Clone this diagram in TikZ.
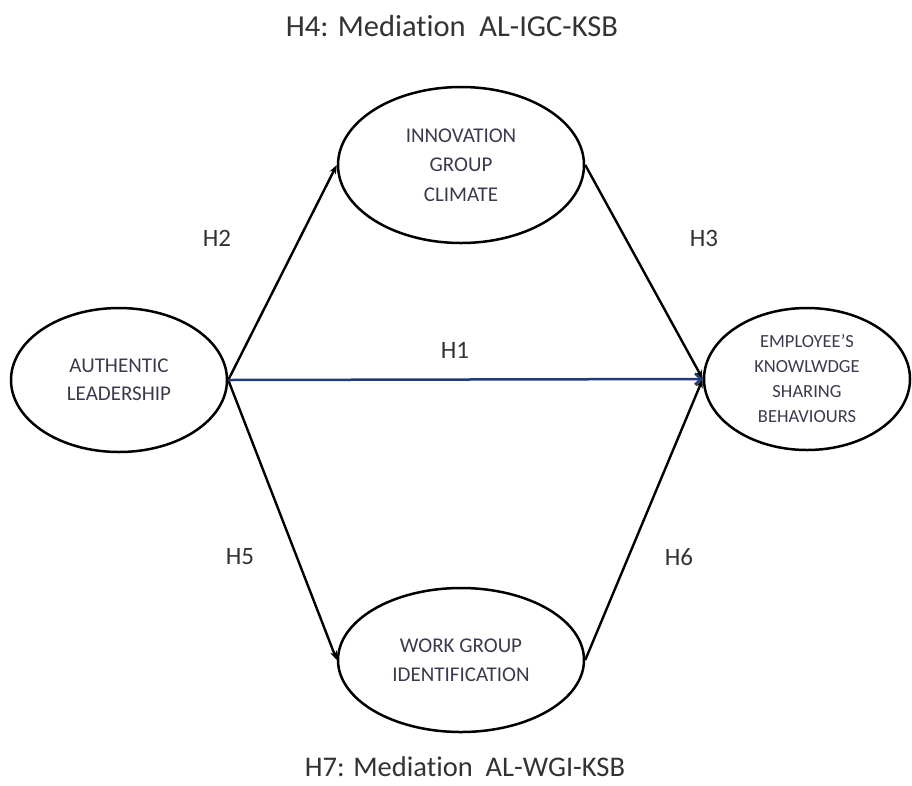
\documentclass[tikz,border=0pt]{standalone}
\usepackage{fontspec}
\setmainfont[Ligatures=NoCommon]{Carlito}
\usetikzlibrary{arrows.meta,shapes.geometric}
\definecolor{txtgray}{HTML}{333333}
\definecolor{elltxt}{HTML}{3A3A4E}
\definecolor{h1blue}{HTML}{1F3B7A}
\tikzset{
  ell/.style={draw=black, line width=2.5pt, ellipse, inner sep=0pt, align=center, text=elltxt},
  link/.style={draw=black, line width=2.4pt, -{Stealth[length=9pt,width=7pt]}},
  bluelink/.style={draw=h1blue, line width=2.5pt, -{Straight Barb[length=6pt,width=11pt,line width=2.4pt]}},
  hlabel/.style={text=txtgray, font=\fontsize{25}{30}\selectfont, inner sep=0pt},
  titlelabel/.style={text=txtgray, inner sep=0pt}
}
\begin{document}
\begin{tikzpicture}[x=1pt,y=-1pt]
\useasboundingbox (0,0) rectangle (912,785);
\node[ell, minimum width=216pt, minimum height=144pt, font=\fontsize{21}{28}\selectfont] (al) at (119,380) {AUTHENTIC\\LEADERSHIP};
\node[ell, minimum width=246pt, minimum height=156pt, font=\fontsize{21}{29.5}\selectfont] (igc) at (461,165) {INNOVATION\\GROUP\\CLIMATE};
\node[ell, minimum width=246pt, minimum height=144pt, font=\fontsize{21}{29}\selectfont] (wgi) at (461,660) {WORK GROUP\\IDENTIFICATION};
\node[ell, minimum width=206pt, minimum height=142pt, font=\fontsize{18.5}{25}\selectfont] (eksb) at (807,379) {EMPLOYEE’S\\KNOWLWDGE\\SHARING\\BEHAVIOURS};
\node[titlelabel, font=\fontsize{30.5}{35}\selectfont] (t4) at (452,26) {H4: Mediation\ \ AL-IGC-KSB};
\node[titlelabel, font=\fontsize{28.5}{33}\selectfont] (t7) at (465,767) {H7: Mediation\ \ AL-WGI-KSB};
\node[hlabel] (h2) at (217,238) {H2};
\node[hlabel] (h3) at (704,238) {H3};
\node[hlabel] (h1) at (455,350) {H1};
\node[hlabel] (h5) at (240,557) {H5};
\node[hlabel] (h6) at (679,557) {H6};
\draw[link] (al.east) -- (igc.west);
\draw[link] (al.east) -- (wgi.west);
\draw[link] (igc.east) -- (eksb.west);
\draw[link] (wgi.east) -- (eksb.west);
\draw[bluelink] (al.east) -- (eksb.west);
\end{tikzpicture}
\end{document}
